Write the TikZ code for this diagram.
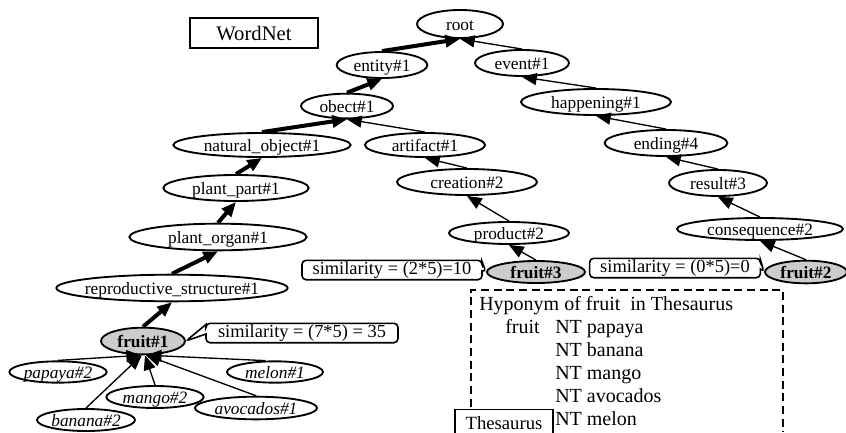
\documentclass[tikz,border=0pt]{standalone}
\usepackage{fontspec}
\setmainfont{Liberation Serif}
\usetikzlibrary{shapes.geometric,shapes.callouts,arrows.meta}

\tikzset{
  syn/.style={ellipse,draw,line width=1.4pt,inner xsep=-4pt,inner ysep=0pt,text height=10pt,text depth=1pt,minimum height=19.5pt,font=\fontsize{13}{15}\selectfont},
  hit/.style={syn,fill=gray!40,font=\fontsize{13}{15}\selectfont\bfseries},
  hypo/.style={syn,font=\fontsize{13}{15}\selectfont\itshape},
  isa/.style={line width=1pt,-{Triangle[length=11pt,width=9pt]}},
  mainisa/.style={line width=3pt,-{Triangle[length=11pt,width=9pt]}},
  simbox/.style={rectangle callout,draw,fill=white,rounded corners=3pt,line width=1.2pt,inner xsep=0pt,inner ysep=1pt,font=\fontsize{13.8}{15}\selectfont},
  boxtext/.style={anchor=west,inner sep=0pt,text height=10.5pt,text depth=3pt,font=\fontsize{15}{17}\selectfont}
}

\begin{document}
\begin{tikzpicture}[x=0.75pt,y=0.75pt,yscale=-1,xscale=1]
\useasboundingbox (0,0) rectangle (846,432);

% Ellipse Nodes
\node[syn,minimum width=64.5pt,minimum height=21pt] (root) at (460,24) {root};
\node[syn,minimum width=68pt] (entity) at (382,65) {entity\#1};
\node[syn,minimum width=70.5pt] (event) at (522,63) {event\#1};
\node[syn,minimum width=69pt,minimum height=18.5pt] (obect) at (347,106) {obect\#1};
\node[syn,minimum width=133pt,minimum height=18pt] (natobj) at (262,145) {natural\_object\#1};
\node[syn,minimum width=90pt,minimum height=18pt] (artifact) at (425,145) {artifact\#1};
\node[syn,minimum width=112.5pt] (happening) at (596,102) {happening\#1};
\node[syn,minimum width=92pt] (ending) at (666,143) {ending\#4};
\node[syn,minimum width=109pt] (plantpart) at (236,188) {plant\_part\#1};
\node[syn,minimum width=105pt] (creation) at (467,182) {creation\#2};
\node[syn,minimum width=73.5pt] (result) at (718,183) {result\#3};
\node[syn,minimum width=133pt,minimum height=20pt] (plantorgan) at (218,237) {plant\_organ\#1};
\node[syn,minimum width=90pt,minimum height=16.5pt] (product) at (509,233) {product\#2};
\node[syn,minimum width=124.5pt,minimum height=16.5pt] (consequence) at (760,229) {consequence\#2};
\node[syn,minimum width=172pt,minimum height=20pt] (repro) at (172,288) {reproductive\_structure\#1};

% Fruit Nodes
\node[hit,minimum width=63pt,minimum height=20pt] (fruitone) at (143,341) {fruit\#1};
\node[hit,minimum width=73.5pt,minimum height=16.5pt] (fruitthree) at (536,272) {fruit\#3};
\node[hit,minimum width=61.5pt,minimum height=17pt] (fruittwo) at (806,272) {fruit\#2};

% Hyponym Nodes
\node[hypo,minimum width=73pt,minimum height=16pt] (papaya) at (58,372) {papaya\#2};
\node[hypo,minimum width=72pt,minimum height=16pt] (melon) at (275,372) {melon\#1};
\node[hypo,minimum width=73pt,minimum height=16.5pt] (mango) at (155,397) {mango\#2};
\node[hypo,minimum width=91.5pt,minimum height=17pt] (avocados) at (256,408) {avocados\#1};
\node[hypo,minimum width=73.5pt,minimum height=16.5pt] (banana) at (86,420) {banana\#2};

% Straight Lines
\draw[mainisa] (entity.north) -- (root.south);
\draw[mainisa] (obect.north) -- (entity.south);
\draw[mainisa] (natobj.north) -- (obect.south);
\draw[mainisa] (plantpart.north) -- (natobj.south);
\draw[mainisa] (plantorgan.north) -- (plantpart.south);
\draw[mainisa] (repro.north) -- (plantorgan.south);
\draw[mainisa] (fruitone.north) -- (repro.south);
\draw[isa] (event.north) -- (root.south);
\draw[isa] (happening.north) -- (event.south);
\draw[isa] (ending.north) -- (happening.south);
\draw[isa] (result.north) -- (ending.south);
\draw[isa] (consequence.north) -- (result.south);
\draw[isa] (fruittwo.north) -- (consequence.south);
\draw[isa] (artifact.north) -- (obect.south);
\draw[isa] (creation.north) -- (artifact.south);
\draw[isa] (product.north) -- (creation.south);
\draw[isa] (fruitthree.north) -- (product.south);
\draw[isa] (papaya.north) -- (fruitone.262);
\draw[isa] (banana.north) -- (fruitone.265);
\draw[isa] (mango.north) -- (fruitone.-82);
\draw[isa] (avocados.north) -- (fruitone.-78);
\draw[isa] (melon.130) -- (fruitone.-75);

% Callout Nodes
\node[simbox,minimum width=144pt,callout absolute pointer={(fruitone.east)}] (simone) at (302,333) {similarity = (7*5) = 35};
\node[simbox,minimum width=135pt,callout absolute pointer={(fruitthree.west)}] (simthree) at (392,270) {similarity = (2*5)=10};
\node[simbox,minimum width=128pt,callout absolute pointer={(fruittwo.west)}] (simtwo) at (675,268) {similarity = (0*5)=0};

% Label Boxes
\node[draw,line width=1.4pt,minimum width=96pt,minimum height=22.5pt,font=\fontsize{15.5}{17}\selectfont] (wordnet) at (254,33) {WordNet};
\draw[line width=1.3pt,dash pattern=on 6pt off 3.5pt] (471,432) -- (471,290) -- (783,290) -- (783,432);
\node[draw,fill=white,line width=1.2pt,minimum width=73.5pt,minimum height=20pt,font=\fontsize{14}{16}\selectfont] (thesaurus) at (504,423) {Thesaurus};

% Text Nodes
\node[boxtext] (hyptitle) at (479,305) {Hyponym of fruit\ \ in Thesaurus};
\node[boxtext] (hypfruit) at (505,328) {fruit};
\foreach \w [count=\i] in {papaya,banana,mango,avocados,melon}
  \node[boxtext] (nt\i) at (555,{305+23*\i}) {NT \w};

\end{tikzpicture}
\end{document}
